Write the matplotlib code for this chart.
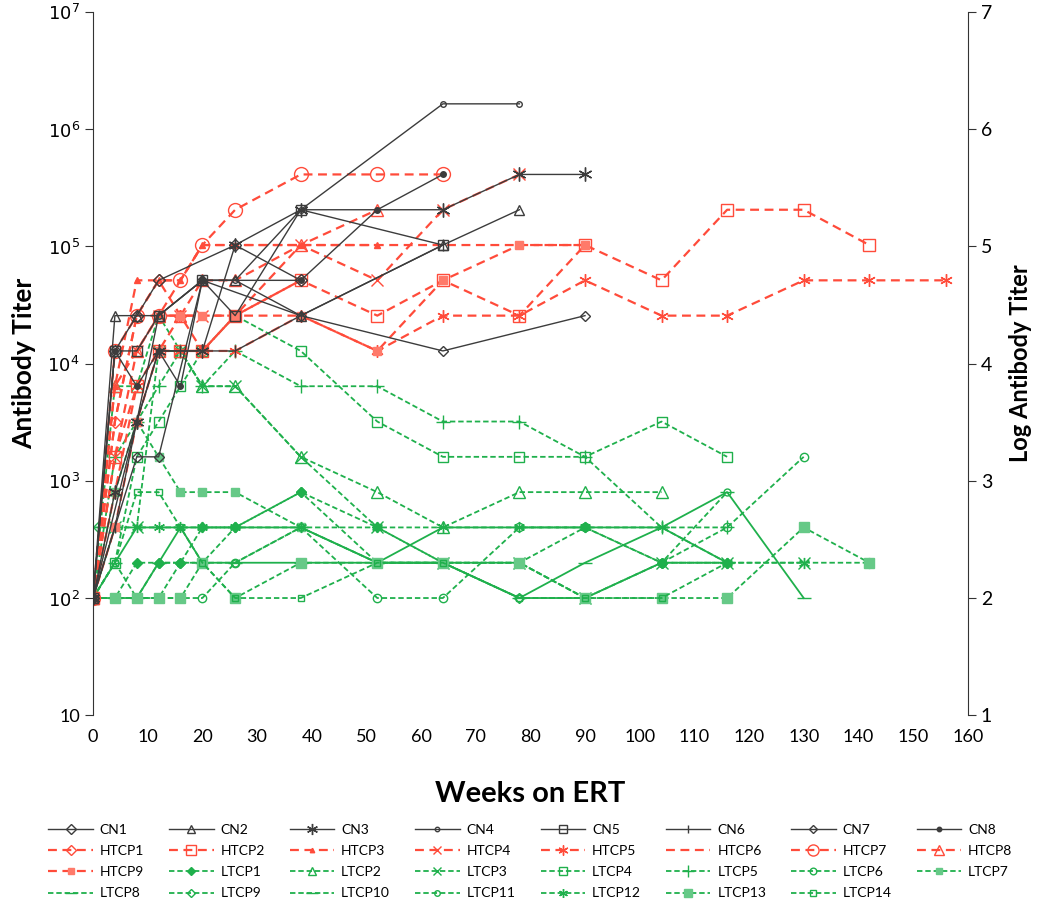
import matplotlib
matplotlib.use("Agg")
import matplotlib.pyplot as plt
from matplotlib.lines import Line2D
import numpy as np

plt.rcParams['font.family'] = ['Lato', 'DejaVu Sans']

# ---------------- data (weeks on ERT, antibody titer) ----------------
cn_names = ['CN1', 'CN2', 'CN3', 'CN4', 'CN5', 'CN6', 'CN7', 'CN8']
cn_weeks = [
    [0, 4, 8, 12, 26, 38],
    [0, 4, 8, 12, 20, 26, 38, 64, 78],
    [0, 4, 8, 12, 20, 26, 38, 64, 78, 90],
    [0, 8, 12, 20, 26, 38, 64, 78],
    [0, 4, 8, 12, 20, 26, 38, 64],
    [0, 4, 8, 12, 16, 26, 38, 64],
    [0, 8, 12, 20, 38, 64, 90],
    [0, 4, 8, 12, 16, 20, 38, 52, 64],
]
cn_vals = [
    [100, 12800, 25600, 51200, 102400, 51200],
    [100, 25600, 25600, 25600, 51200, 51200, 25600, 102400, 204800],
    [100, 800, 3200, 12800, 12800, 102400, 204800, 204800, 409600, 409600],
    [100, 3200, 25600, 51200, 51200, 204800, 1638400, 1638400],
    [100, 12800, 12800, 25600, 51200, 25600, 204800, 102400],
    [100, 400, 3200, 12800, 12800, 12800, 25600, 102400],
    [100, 1600, 1600, 51200, 25600, 12800, 25600],
    [100, 12800, 6400, 12800, 6400, 51200, 51200, 204800, 409600],
]

ht_names = ['HTCP1', 'HTCP2', 'HTCP3', 'HTCP4', 'HTCP5', 'HTCP6', 'HTCP7', 'HTCP8', 'HTCP9']
ht_weeks = [
    [0, 4, 8, 12, 16, 20, 26, 38],
    [0, 4, 8, 12, 16, 20, 26, 38, 52, 64, 78, 90, 104, 116, 130, 142],
    [0, 4, 8, 12, 16, 20, 26, 38, 52],
    [0, 4, 8, 12, 16, 20, 26, 38, 52, 64, 78],
    [0, 4, 8, 12, 16, 20, 26, 38, 52, 64, 78, 90, 104, 116, 130, 142, 156],
    [0, 4, 8, 12, 16, 20, 26, 38, 52, 64, 78, 90],
    [0, 4, 8, 12, 16, 20, 26, 38, 52, 64],
    [0, 4, 8, 12, 16, 20, 26, 38, 52],
    [0, 4, 8, 12, 16, 20, 26, 38, 52, 64, 78, 90],
]
ht_vals = [
    [100, 3200, 25600, 51200, 25600, 12800, 25600, 51200],
    [100, 1600, 6400, 12800, 12800, 12800, 25600, 51200, 25600, 51200, 25600, 102400, 51200, 204800, 204800, 102400],
    [100, 6400, 51200, 51200, 51200, 102400, 102400, 102400, 102400],
    [100, 1600, 12800, 25600, 25600, 25600, 25600, 102400, 51200, 204800, 409600],
    [100, 800, 6400, 12800, 12800, 12800, 12800, 25600, 12800, 25600, 25600, 51200, 25600, 25600, 51200, 51200, 51200],
    [100, 3200, 25600, 51200, 51200, 102400, 102400, 102400, 102400, 102400, 102400, 102400],
    [100, 12800, 25600, 25600, 51200, 102400, 204800, 409600, 409600, 409600],
    [100, 6400, 12800, 25600, 25600, 51200, 51200, 102400, 204800],
    [100, 400, 3200, 12800, 25600, 25600, 25600, 25600, 12800, 51200, 102400, 102400],
]

lt_names = ['LTCP%d' % i for i in range(1, 15)]
lt_weeks = [
    [0, 4, 8, 12, 16, 20, 26, 38, 52, 64, 78, 90, 104, 116],
    [0, 4, 8, 12, 16, 20, 26, 38, 52, 64, 78, 90, 104],
    [0, 4, 8, 12, 16, 20, 26, 38, 52, 64, 78, 90, 104, 116, 130],
    [0, 4, 8, 12, 16, 20, 26, 38, 52, 64, 78, 90, 104, 116],
    [0, 4, 8, 12, 16, 20, 26, 38, 52, 64, 78, 90, 104, 116],
    [0, 4, 8, 12, 16, 20, 26, 38, 52, 64, 78, 90, 104, 116, 130],
    [0, 4, 8, 12, 16, 20, 26, 38, 52, 64, 78, 90],
    [0, 4, 8, 12, 16, 20, 26, 38, 52, 64, 78, 90, 104, 116, 130],
    [0, 4, 8, 12, 16, 20, 26, 38, 52, 64, 78, 90, 104, 116],
    [0, 4, 8, 12, 16, 20, 26, 38, 52, 64, 78, 90, 104, 116],
    [0, 4, 8, 12, 16, 20, 26, 38, 52, 64, 78, 90, 104, 116],
    [0, 4, 8, 12, 16, 20, 26, 38, 52, 64, 78, 90, 104, 116, 130, 142],
    [0, 4, 8, 12, 16, 20, 26, 38, 52, 64, 78, 90, 104, 116, 130, 142],
    [0, 4, 8, 12, 16, 20, 26, 38, 52, 64, 78, 90, 104, 116],
]
lt_vals = [
    [100, 100, 200, 200, 200, 400, 400, 800, 400, 200, 200, 400, 200, 200],
    [100, 6400, 6400, 25600, 12800, 6400, 6400, 1600, 800, 400, 800, 800, 800],
    [400, 400, 400, 12800, 12800, 6400, 6400, 1600, 400, 200, 200, 100, 200, 200, 200],
    [100, 200, 1600, 3200, 6400, 12800, 25600, 12800, 3200, 1600, 1600, 1600, 3200, 1600],
    [100, 1600, 3200, 6400, 12800, 6400, 12800, 6400, 6400, 3200, 3200, 1600, 400, 400],
    [100, 100, 100, 100, 100, 100, 200, 400, 100, 100, 400, 400, 200, 400, 1600],
    [100, 800, 3200, 1600, 800, 800, 800, 400, 200, 200, 200, 100],
    [100, 200, 400, 400, 400, 200, 200, 200, 200, 200, 100, 200, 400, 800, 100],
    [100, 100, 100, 200, 200, 200, 400, 800, 200, 200, 100, 100, 200, 200],
    [100, 100, 100, 200, 400, 400, 400, 400, 200, 400, 400, 400, 400, 200],
    [100, 200, 100, 100, 200, 200, 200, 400, 200, 200, 100, 100, 200, 800],
    [100, 400, 400, 400, 400, 400, 400, 400, 400, 400, 400, 400, 400, 200, 200, 200],
    [100, 100, 100, 100, 100, 200, 100, 200, 200, 200, 200, 100, 100, 100, 400, 200],
    [100, 200, 800, 800, 400, 200, 100, 100, 200, 200, 100, 100, 100, 200],
]

# ---------------- styles ----------------
black = '#3c3c3c'
red = '#ff4b3a'
red_lt = '#ff7a6a'
green = '#1fb04c'
green_lt = '#66c987'
ast = (6, 2, 0)   # six-armed asterisk

cn_mk = [('D', 'none', 6), ('^', 'none', 7), (ast, None, 10), ('o', 'none', 4),
         ('s', 'none', 7), ('|', None, 8), ('D', 'none', 5), ('o', 'full', 4)]
ht_mk = [('D', 'none', 6), ('s', 'none', 9), ('^', 'full', 4), ('x', None, 8),
         (ast, None, 9), ('', None, 0), ('o', 'none', 10), ('^', 'none', 9),
         ('s', 'light', 6)]
lt_mk = [('D', 'full', 5), ('^', 'none', 8), ('x', None, 8), ('s', 'none', 7),
         ('+', None, 10), ('o', 'none', 6), ('s', 'light', 6), ('_', None, 10),
         ('D', 'none', 5), ('_', None, 10), ('o', 'none', 5), (ast, None, 8),
         ('s', 'light', 7), ('s', 'none', 5)]
lt_ls = ['--'] * 14
lt_ls[7] = '-'
lt_ls[9] = '-'

fig = plt.figure(figsize=(10.5, 9.02), dpi=100)
ax = fig.add_axes([0.0886, 0.207, 0.833, 0.780])


def style(color, light, ls, lw, mk, dashes):
    m, fill, ms = mk
    kw = dict(color=color, linestyle=ls, linewidth=lw, marker=m if m else None,
              markersize=ms, markeredgewidth=1.0)
    if fill == 'none':
        kw['markerfacecolor'] = 'none'
    elif fill == 'light':
        kw['markerfacecolor'] = light
        kw['markeredgecolor'] = light
    if dashes is not None:
        kw['dashes'] = dashes
    return kw


handles = {}
for i in range(len(lt_names)):
    d = None if lt_ls[i] == '-' else (3, 1.6)
    ax.plot(lt_weeks[i], lt_vals[i], **style(green, green_lt, lt_ls[i], 1.3, lt_mk[i], d))
    m, f, s = lt_mk[i]
    handles[lt_names[i]] = Line2D([], [], **style(green, green_lt, '--', 1.3, (m, f, s * 0.8), (3, 1.6)))
for i in range(len(ht_names)):
    ax.plot(ht_weeks[i], ht_vals[i], **style(red, red_lt, '--', 1.6, ht_mk[i], (4, 2.5)))
    m, f, s = ht_mk[i]
    handles[ht_names[i]] = Line2D([], [], **style(red, red_lt, '--', 1.6, (m, f, s * 0.8), (4, 2.5)))
for i in range(len(cn_names)):
    ax.plot(cn_weeks[i], cn_vals[i], **style(black, black, '-', 1.0, cn_mk[i], None))
    m, f, s = cn_mk[i]
    handles[cn_names[i]] = Line2D([], [], **style(black, black, '-', 1.0, (m, f, s * 0.8), None))

ax.set_yscale('log')
ax.set_ylim(10, 1e7)
ax.set_xlim(0, 160)
ax.set_xticks(np.arange(0, 161, 10))
ax.set_yticks([10, 1e2, 1e3, 1e4, 1e5, 1e6, 1e7])
ax.set_yticklabels(['10', '$10^2$', '$10^3$', '$10^4$', '$10^5$', '$10^6$', '$10^7$'])
ax.yaxis.set_minor_locator(matplotlib.ticker.NullLocator())
ax.tick_params(axis='both', labelsize=13, direction='out', length=6, color='#333333')
ax.tick_params(axis='x', length=0, pad=10)
ax.spines['top'].set_visible(False)
ax.spines['right'].set_visible(False)
ax.spines['bottom'].set_visible(False)
ax.spines['left'].set_color('#333333')
ax.set_ylabel('Antibody Titer', fontsize=19, fontweight='bold', labelpad=8)
ax.set_xlabel('Weeks on ERT', fontsize=21, fontweight='bold', labelpad=26)

ax2 = ax.twinx()
ax2.set_ylim(1, 7)
ax2.set_yticks(range(1, 8))
ax2.tick_params(axis='y', labelsize=14, direction='out', length=6, color='#333333')
ax2.spines['top'].set_visible(False)
ax2.spines['left'].set_visible(False)
ax2.spines['bottom'].set_visible(False)
ax2.spines['right'].set_color('#333333')
ax2.set_ylabel('Log Antibody Titer', fontsize=17, fontweight='bold', labelpad=12)

# legend laid out row by row: CN, HTCP, LTCP
order = cn_names + ht_names + lt_names
ncol = 8
nrow = 4
leg_h, leg_l = [], []
for c in range(ncol):
    for r in range(nrow):
        k = r * ncol + c
        if k < len(order):
            leg_h.append(handles[order[k]])
            leg_l.append(order[k])
fig.legend(leg_h, leg_l, loc='lower center', bbox_to_anchor=(0.505, -0.011), ncol=ncol,
           frameon=False, fontsize=10, handlelength=3.2, handletextpad=0.5,
           columnspacing=1.8, labelspacing=0.66)

fig.savefig('out.png', dpi=100)
